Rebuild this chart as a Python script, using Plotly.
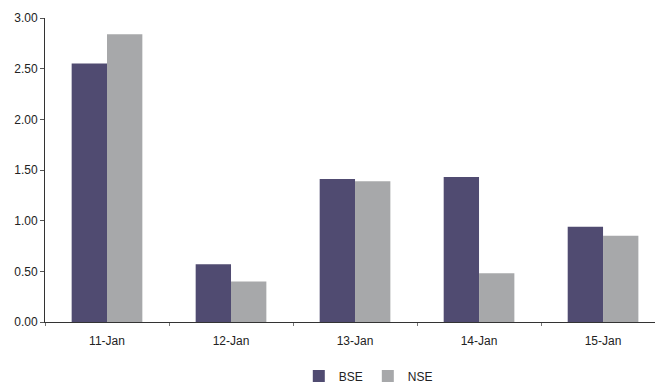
import plotly.graph_objects as go

categories = ["11-Jan", "12-Jan", "13-Jan", "14-Jan", "15-Jan"]
bse = [2.55, 0.57, 1.41, 1.43, 0.94]
nse = [2.84, 0.40, 1.39, 0.48, 0.85]
y_ticks = [0, 0.5, 1.0, 1.5, 2.0, 2.5, 3.0]

fig = go.Figure()
fig.add_trace(go.Bar(name="BSE", x=categories, y=bse, marker=dict(color="#504B71", line=dict(width=0))))
fig.add_trace(go.Bar(name="NSE", x=categories, y=nse, marker=dict(color="#A7A8AA", line=dict(width=0))))

fig.update_layout(
    width=655, height=392,
    margin=dict(l=45, r=0, t=18, b=70),
    paper_bgcolor="white", plot_bgcolor="white",
    barmode="group", bargap=0.43, bargroupgap=0,
    font=dict(family="Liberation Sans, Arial, sans-serif", size=12, color="#222"),
    showlegend=True,
    legend=dict(orientation="h", x=0.53, xanchor="center", y=-0.178, yanchor="middle",
                font=dict(size=12), itemwidth=30, traceorder="normal"),
    xaxis=dict(range=[-0.5, 4.419], showline=True, linecolor="#333", linewidth=1,
               ticks="outside", tickson="boundaries", ticklen=3, tickcolor="#777",
               ticklabelstandoff=8,
               showgrid=False, zeroline=False, fixedrange=True),
    yaxis=dict(range=[0, 3], tickvals=y_ticks, tickformat=".2f", showline=True,
               linecolor="#333", linewidth=1, ticks="outside", ticklen=4, tickcolor="#555",
               showgrid=False, zeroline=False, fixedrange=True),
)

fig.write_html("out.html")
